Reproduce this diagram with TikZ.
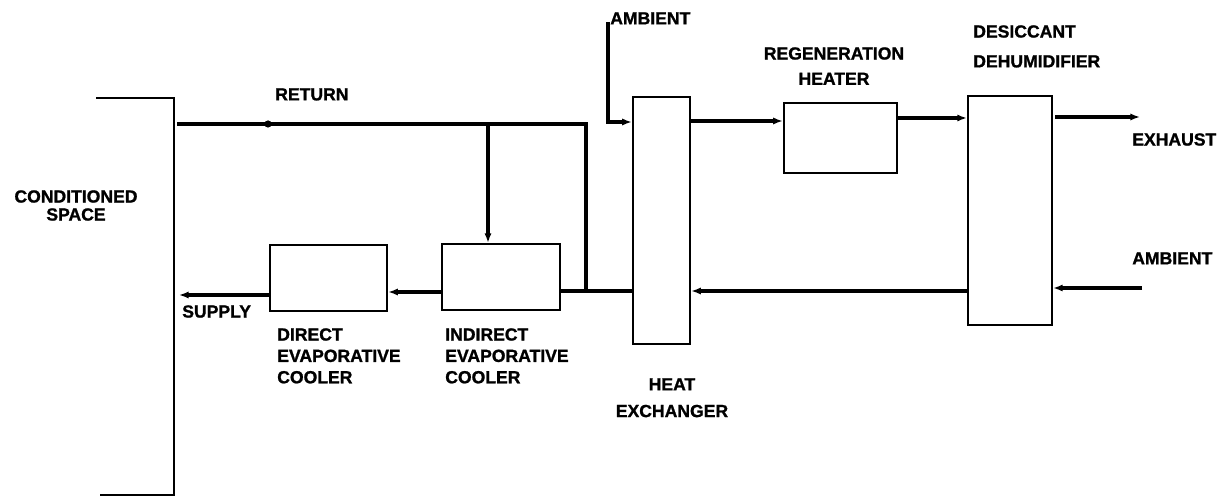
\documentclass[tikz,border=0pt]{standalone}
\usepackage{fontspec}
\setmainfont{Liberation Sans}[BoldFeatures={FakeBold=1.2}]
\usepackage{tikz}
\usetikzlibrary{arrows.meta, positioning, calc}

\begin{document}
\begin{tikzpicture}[
  x=0.025cm, y=-0.025cm,
  >={Latex[length=2.4mm,width=1.8mm]},
  every node/.style={font=\fontsize{12.5}{15.2}\selectfont\bfseries, inner sep=0pt},
  unit/.style={draw, line width=1.5pt},
  flow/.style={line width=2.2pt},
  wall/.style={line width=1.5pt}
]
\useasboundingbox (0,0) rectangle (1229,497);
\draw[wall] (96,98) -- (174,98) -- (174,495) -- (100,495);
\node[align=center, anchor=north] (space-label) at (76,190) {CONDITIONED\\[-2.4pt]SPACE};
\node[unit, minimum width=2.93cm, minimum height=1.65cm] (direct) at (328.5,278) {};
\node[unit, minimum width=2.95cm, minimum height=1.65cm] (indirect) at (501,277) {};
\node[unit, minimum width=1.43cm, minimum height=6.18cm] (hx) at (661.5,220.5) {};
\node[unit, minimum width=2.83cm, minimum height=1.75cm] (regen) at (840.5,138) {};
\node[unit, minimum width=2.1cm, minimum height=5.73cm] (dehum) at (1010,210.5) {};
\coordinate (return-start) at (177,124);
\coordinate (return-tee) at (488,124);
\coordinate (return-corner) at (586,124);
\coordinate (mix) at (586,291);
\coordinate (supply-end) at (179,295);
\coordinate (amb-top) at (608,22);
\coordinate (amb-corner) at (608,122);
\coordinate (exhaust-start) at (1055,117);
\coordinate (exhaust-end) at (1140,117);
\coordinate (amb-start) at (1142,288);
\draw[flow] (return-start) -- (return-corner) -- (mix);
\fill (268,124) circle (3.6);
\draw[flow,->] (return-tee) -- (return-tee |- indirect.north);
\draw[flow] (indirect.east |- mix) -- (hx.west |- mix);
\draw[flow,->] (indirect.west |- 0,292) -- (direct.east |- 0,292);
\draw[flow,->] (direct.west |- supply-end) -- (supply-end);
\draw[flow,->] (amb-top) -- (amb-corner) -- (hx.west |- amb-corner);
\draw[flow,->] (hx.east |- 0,121) -- (regen.west |- 0,121);
\draw[flow,->] (regen.east |- 0,118) -- (dehum.west |- 0,118);
\draw[flow,->] (exhaust-start) -- (exhaust-end);
\draw[flow,->] (amb-start) -- (dehum.east |- amb-start);
\draw[flow,->] (dehum.west |- 0,291) -- (hx.east |- 0,291);
\node[anchor=north west] (return-label) at (275,88) {RETURN};
\node[anchor=north west] (supply-label) at (182,305) {SUPPLY};
\node[align=left, anchor=north west] (direct-label) at (277,328) {DIRECT\\EVAPORATIVE\\COOLER};
\node[align=left, anchor=north west] (indirect-label) at (445,328) {INDIRECT\\EVAPORATIVE\\COOLER};
\node[align=center, anchor=north] (hx-label) at (672,378) {HEAT\\[3.8pt]EXCHANGER};
\node[anchor=north west] (amb-top-label) at (610,12) {AMBIENT};
\node[align=center, anchor=north] (regen-label) at (834,47) {REGENERATION\\[2.8pt]HEATER};
\node[align=left, anchor=north west] (dehum-label) at (973,25) {DESICCANT\\[6pt]DEHUMIDIFIER};
\node[anchor=north west] (exhaust-label) at (1132,133) {EXHAUST};
\node[anchor=north west] (amb-label) at (1132,252) {AMBIENT};
\end{tikzpicture}
\end{document}
